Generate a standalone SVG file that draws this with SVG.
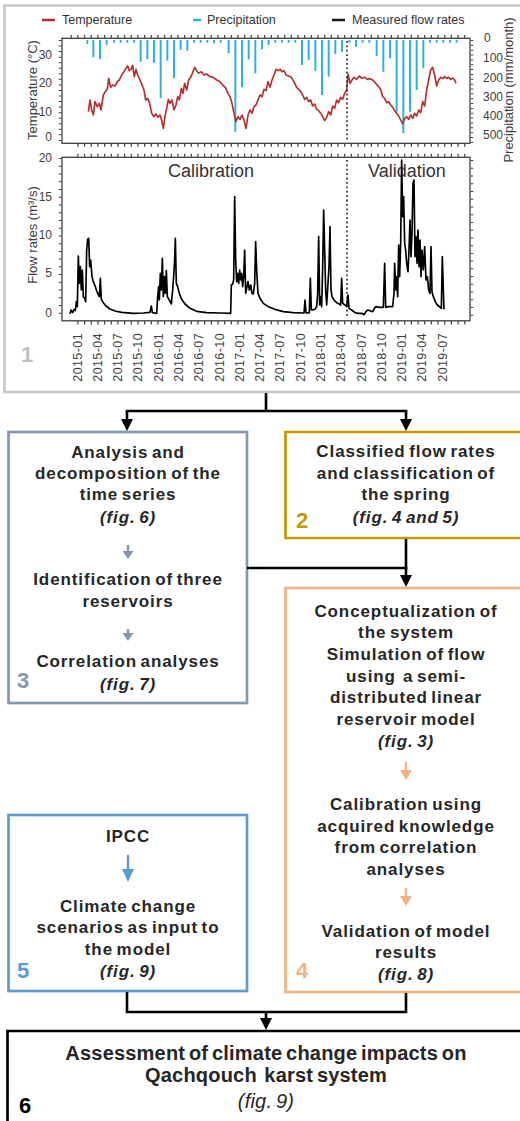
<svg xmlns="http://www.w3.org/2000/svg" width="520" height="1121" viewBox="0 0 520 1121">
<style>
.ax{font-family:"Liberation Sans",Arial,sans-serif;font-size:12px;fill:#404040}
.axt{font-family:"Liberation Sans",Arial,sans-serif;font-size:13px;fill:#404040}
.lg{font-family:"Liberation Sans",Arial,sans-serif;font-size:12.5px;fill:#333}
.dt{font-family:"Liberation Sans",Arial,sans-serif;font-size:12.5px;fill:#404040;text-anchor:end;letter-spacing:0.4px}
.big{font-family:"Liberation Sans",Arial,sans-serif;font-size:18px;fill:#333}
.t{font-family:"Liberation Sans",Arial,sans-serif;font-size:17px;font-weight:bold;fill:#262626;text-anchor:middle;letter-spacing:0.9px;word-spacing:-2px}
.t6{font-family:"Liberation Sans",Arial,sans-serif;font-size:20px;font-weight:bold;fill:#262626;text-anchor:middle;letter-spacing:0.2px;word-spacing:-2px}
.fig{font-style:italic}
.num{font-family:"Liberation Sans",Arial,sans-serif;font-size:22px;font-weight:bold}
.frame{fill:none;stroke-width:2.7}
.tick{stroke:#404040;fill:none}
.con{fill:none;stroke:#000;stroke-width:2.6}
.sub{fill:none;stroke-width:2.4}
</style>
<defs>
<marker id="ah" viewBox="0 0 12 12" refX="7" refY="6" markerWidth="12" markerHeight="12" markerUnits="userSpaceOnUse" orient="auto"><path d="M0,0 L12,6 L0,12 z" fill="#000"/></marker>
<marker id="ahs" viewBox="0 0 8 11" refX="2" refY="5.5" markerWidth="8" markerHeight="11" markerUnits="userSpaceOnUse" orient="auto"><path d="M0,0 L8,5.5 L0,11 z" fill="#8497b0"/></marker>
<marker id="ahp" viewBox="0 0 10 12" refX="2" refY="6" markerWidth="10" markerHeight="12" markerUnits="userSpaceOnUse" orient="auto"><path d="M0,0 L10,6 L0,12 z" fill="#f4b183"/></marker>
<marker id="ahb" viewBox="0 0 13 12" refX="2" refY="6" markerWidth="13" markerHeight="12" markerUnits="userSpaceOnUse" orient="auto"><path d="M0,0 L13,6 L0,12 z" fill="#5b9bd5"/></marker>
</defs>
<rect width="520" height="1121" fill="#fff"/>

<g id="node1">
<path class="frame" stroke="#c8c8c8" d="M522,5.5 H4.5 V392 H522"/>
<line x1="42" y1="20" x2="55" y2="20" stroke="#b5302f" stroke-width="2.5"/>
<text class="lg" x="62" y="24">Temperature</text>
<line x1="193" y1="20" x2="201" y2="20" stroke="#2fb0e0" stroke-width="2.5"/>
<text class="lg" x="207" y="24">Precipitation</text>
<line x1="332" y1="20" x2="345" y2="20" stroke="#1a1a1a" stroke-width="2.5"/>
<text class="lg" x="352" y="24">Measured flow rates</text>
<rect x="62" y="38.3" width="408" height="105" fill="none" stroke="#404040" stroke-width="1.3"/>
<g class="tick">
<line x1="70.6" y1="36.5" x2="468" y2="36.5" stroke-width="3" stroke-dasharray="1.2 5.47"/>
<line x1="77.3" y1="145" x2="468" y2="145" stroke-width="3.5" stroke-dasharray="1.2 5.47"/>
<line x1="60" y1="40" x2="60" y2="143" stroke-width="2.5" stroke-dasharray="1 4.55"/>
<line x1="472" y1="40" x2="472" y2="143" stroke-width="2.5" stroke-dasharray="1 3.85"/>
</g>
<text class="ax" x="52" y="141" text-anchor="end">0</text>
<text class="ax" x="52" y="116" text-anchor="end">10</text>
<text class="ax" x="52" y="87" text-anchor="end">20</text>
<text class="ax" x="52" y="59" text-anchor="end">30</text>
<text class="axt" transform="translate(37,90) rotate(-90)" text-anchor="middle">Temperature (°C)</text>
<text class="ax" x="484" y="42">0</text>
<text class="ax" x="483" y="62">100</text>
<text class="ax" x="483" y="82">200</text>
<text class="ax" x="483" y="101">300</text>
<text class="ax" x="483" y="120">400</text>
<text class="ax" x="483" y="139">500</text>
<text class="axt" transform="translate(513,90) rotate(-90)" text-anchor="middle">Precipitation (mm/month)</text>
<g transform="scale(0.33333)">
<path fill="none" stroke="#2fb0e0" stroke-width="6" d="M262,120V132 M280,120V172 M300,120V178 M320,120V135 M342,120V128 M362,120V128 M382,120V128 M402,120V128 M422,120V185 M442,120V178 M462,120V188 M482,120V295 M502,120V182 M522,120V235 M542,120V150 M562,120V152 M582,120V128 M602,120V128 M622,120V128 M642,120V130 M662,120V128 M686,120V160 M706,120V395 M726,120V262 M746,120V178 M766,120V220 M786,120V148 M806,120V135 M826,120V128 M846,120V128 M866,120V128 M886,120V128 M906,120V195 M926,120V180 M946,120V212 M966,120V285 M986,120V230 M1006,120V162 M1026,120V155 M1048,120V128 M1068,120V140 M1088,120V128 M1108,120V128 M1130,120V168 M1150,120V215 M1170,120V175 M1190,120V335 M1210,120V400 M1230,120V335 M1250,120V270 M1270,120V205 M1290,120V128 M1310,120V128 M1330,120V128 M1350,120V128 M1370,120V128"/>
<polyline fill="none" stroke="#b5302f" stroke-width="5" stroke-linejoin="round" points="265,335 270,300 275,330 280,345 285,305 292,320 298,310 303,330 310,285 316,275 322,268 326,235 332,262 338,255 345,258 352,245 358,240 365,225 372,215 378,205 383,198 388,212 393,208 398,196 403,230 408,208 413,225 420,240 426,255 432,270 437,300 443,295 449,310 455,340 462,350 468,342 474,352 480,345 485,360 490,385 495,350 500,325 505,298 510,310 516,300 522,330 528,315 533,290 538,300 544,265 549,280 554,250 560,270 566,240 572,232 578,218 584,202 590,212 596,220 604,215 612,225 620,222 630,230 640,232 650,240 660,245 668,255 676,262 684,280 690,290 696,310 702,340 708,365 714,350 720,358 726,345 732,360 738,385 744,345 750,330 756,340 762,320 768,315 774,300 780,285 786,290 792,268 798,272 804,245 810,262 816,240 822,225 828,208 834,212 840,208 846,215 852,212 858,225 866,228 874,232 882,245 890,262 896,268 902,275 908,285 914,298 920,292 926,305 932,300 938,318 944,312 950,328 956,332 962,340 968,350 974,362 980,352 986,335 992,345 998,318 1004,325 1010,300 1016,308 1022,292 1028,298 1034,280 1040,270 1044,222 1050,250 1056,240 1062,232 1070,238 1078,228 1086,235 1094,232 1102,238 1110,236 1118,240 1126,248 1134,258 1142,268 1148,290 1154,295 1160,308 1166,305 1172,315 1178,322 1184,332 1190,340 1196,348 1202,360 1208,372 1214,355 1220,350 1226,358 1232,345 1238,355 1244,340 1250,348 1256,330 1262,338 1268,305 1274,318 1280,270 1286,240 1292,210 1298,202 1304,225 1310,258 1316,240 1322,232 1328,236 1334,230 1340,235 1346,232 1352,238 1358,234 1364,240 1368,250"/>
</g>
<line x1="347" y1="41" x2="347" y2="140" stroke="#222" stroke-width="1.6" stroke-dasharray="1.8 2.6"/>
<rect x="62" y="157.3" width="408" height="163.5" fill="none" stroke="#404040" stroke-width="1.3"/>
<g class="tick">
<line x1="77.3" y1="155.3" x2="468" y2="155.3" stroke-width="3" stroke-dasharray="1.2 5.47"/>
<line x1="77.3" y1="322.8" x2="468" y2="322.8" stroke-width="3.5" stroke-dasharray="1.2 5.47"/>
<line x1="60" y1="158" x2="60" y2="320" stroke-width="2.5" stroke-dasharray="1 6.74"/>
<line x1="472" y1="160" x2="472" y2="320" stroke-width="2.5" stroke-dasharray="1 6.74"/>
</g>
<text class="ax" x="52" y="162" text-anchor="end">20</text>
<text class="ax" x="52" y="201" text-anchor="end">15</text>
<text class="ax" x="52" y="239" text-anchor="end">10</text>
<text class="ax" x="52" y="277" text-anchor="end">5</text>
<text class="ax" x="52" y="317" text-anchor="end">0</text>
<text class="axt" transform="translate(37,235) rotate(-90)" text-anchor="middle">Flow rates (m³/s)</text>
<text class="big" x="168" y="177">Calibration</text>
<text class="big" x="368" y="177">Validation</text>
<line x1="347" y1="160" x2="347" y2="318" stroke="#222" stroke-width="1.6" stroke-dasharray="1.8 2.6"/>
<g transform="translate(0,150) scale(0.33333)">
<polyline fill="none" stroke="#000" stroke-width="5" stroke-linejoin="round" points="210,492 213,480 218,488 222,478 226,482 229,455 232,470 235,318 238,400 241,350 244,420 247,360 250,440 254,445 257,455 260,300 263,268 266,265 269,350 272,330 276,380 280,395 286,410 292,428 298,440 301,385 304,448 310,458 318,468 330,477 345,483 365,487 400,490 430,489 450,487 454,468 457,488 470,490 473,440 476,410 478,450 481,370 484,420 487,325 490,440 493,380 496,430 499,362 502,440 508,450 514,462 518,420 521,380 524,330 526,265 529,400 533,410 538,430 545,448 555,462 570,475 590,484 620,488 660,489 692,490 694,405 698,402 701,390 704,140 707,330 710,395 713,370 716,400 719,360 722,390 725,370 728,410 731,380 734,300 737,430 740,415 744,395 748,420 752,405 756,430 760,432 764,400 767,275 770,360 774,430 780,445 790,460 805,470 825,478 850,485 880,488 912,489 915,450 918,489 928,488 931,385 934,480 945,478 950,470 953,430 956,260 959,465 962,440 965,470 968,350 971,180 974,300 977,420 980,465 984,400 987,350 990,230 993,420 996,440 1002,450 1010,458 1018,462 1022,465 1025,385 1028,460 1035,465 1040,470 1044,435 1047,475 1055,480 1065,488 1075,490 1085,490 1092,494 1098,485 1103,480 1110,482 1118,485 1123,475 1128,470 1140,472 1150,472 1154,340 1157,472 1165,470 1178,470 1182,430 1184,340 1187,420 1190,380 1193,440 1196,285 1199,380 1202,280 1205,30 1208,200 1211,140 1214,280 1217,300 1220,340 1224,365 1227,300 1230,210 1233,320 1236,250 1239,100 1242,90 1245,320 1248,260 1251,340 1254,240 1257,350 1260,270 1263,380 1266,300 1270,360 1274,290 1278,390 1282,380 1286,420 1290,430 1293,290 1296,425 1300,440 1306,455 1312,465 1318,470 1324,475 1327,320 1330,420 1332,478"/>
</g>
<text class="dt" transform="translate(81.6,333) rotate(-90)">2015-01</text>
<text class="dt" transform="translate(101.9,333) rotate(-90)">2015-04</text>
<text class="dt" transform="translate(122.2,333) rotate(-90)">2015-07</text>
<text class="dt" transform="translate(142.4,333) rotate(-90)">2015-10</text>
<text class="dt" transform="translate(162.7,333) rotate(-90)">2016-01</text>
<text class="dt" transform="translate(183,333) rotate(-90)">2016-04</text>
<text class="dt" transform="translate(203.3,333) rotate(-90)">2016-07</text>
<text class="dt" transform="translate(223.6,333) rotate(-90)">2016-10</text>
<text class="dt" transform="translate(243.8,333) rotate(-90)">2017-01</text>
<text class="dt" transform="translate(264.1,333) rotate(-90)">2017-04</text>
<text class="dt" transform="translate(284.4,333) rotate(-90)">2017-07</text>
<text class="dt" transform="translate(304.7,333) rotate(-90)">2017-10</text>
<text class="dt" transform="translate(325,333) rotate(-90)">2018-01</text>
<text class="dt" transform="translate(345.2,333) rotate(-90)">2018-04</text>
<text class="dt" transform="translate(365.5,333) rotate(-90)">2018-07</text>
<text class="dt" transform="translate(385.8,333) rotate(-90)">2018-10</text>
<text class="dt" transform="translate(406.1,333) rotate(-90)">2019-01</text>
<text class="dt" transform="translate(426.4,333) rotate(-90)">2019-04</text>
<text class="dt" transform="translate(446.6,333) rotate(-90)">2019-07</text>
<text class="num" x="21" y="362" fill="#c0c0c0">1</text>
</g>

<g id="node3">
<rect class="frame" stroke="#8497b0" x="8.5" y="432" width="238.5" height="271"/>
<text class="t" x="128" y="458">Analysis and</text>
<text class="t" x="128" y="479">decomposition of the</text>
<text class="t" x="128" y="500">time series</text>
<text class="t fig" x="128" y="523">(fig. 6)</text>
<text class="t" x="128" y="585">Identification of three</text>
<text class="t" x="128" y="607">reservoirs</text>
<text class="t" x="128" y="667">Correlation analyses</text>
<text class="t fig" x="128" y="690">(fig. 7)</text>
<text class="num" x="17" y="688" fill="#8497b0">3</text>
</g>

<g id="node2">
<path class="frame" stroke="#c59a00" d="M522,432 H285.5 V538 H522"/>
<text class="t" x="406" y="457">Classified flow rates</text>
<text class="t" x="406" y="479">and classification of</text>
<text class="t" x="406" y="500">the spring</text>
<text class="t fig" x="406" y="523">(fig. 4 and 5)</text>
<text class="num" x="296" y="528" fill="#c59a00">2</text>
</g>

<g id="node4">
<path class="frame" stroke="#f4b183" d="M522,588 H285.5 V992 H522"/>
<text class="t" x="406" y="617">Conceptualization of</text>
<text class="t" x="406" y="638">the system</text>
<text class="t" x="406" y="660">Simulation of flow</text>
<text class="t" x="406" y="682" xml:space="preserve">using  a semi-</text>
<text class="t" x="406" y="703">distributed linear</text>
<text class="t" x="406" y="725">reservoir model</text>
<text class="t fig" x="406" y="747">(fig. 3)</text>
<text class="t" x="406" y="810">Calibration using</text>
<text class="t" x="406" y="832">acquired knowledge</text>
<text class="t" x="406" y="853">from correlation</text>
<text class="t" x="406" y="875">analyses</text>
<text class="t" x="406" y="937">Validation of model</text>
<text class="t" x="406" y="958">results</text>
<text class="t fig" x="406" y="980">(fig. 8)</text>
<text class="num" x="296" y="978" fill="#f4b183">4</text>
</g>

<g id="node5">
<rect class="frame" stroke="#5b9bd5" x="8.5" y="815" width="238.5" height="176"/>
<text class="t" x="128" y="842">IPCC</text>
<text class="t" x="128" y="912">Climate change</text>
<text class="t" x="128" y="933">scenarios as input to</text>
<text class="t" x="128" y="955">the model</text>
<text class="t fig" x="128" y="977">(fig. 9)</text>
<text class="num" x="17" y="978" fill="#5b9bd5">5</text>
</g>

<g id="node6">
<path class="frame" stroke="#000" d="M7.5,1122 V1031 H522"/>
<text class="t6" x="266" y="1060">Assessment of climate change impacts on</text>
<text class="t6" x="266" y="1082" xml:space="preserve">Qachqouch  karst system</text>
<text class="t6 fig" x="266" y="1108" style="font-weight:normal">(fig. 9)</text>
<text class="num" x="19" y="1113" fill="#000">6</text>
</g>

<g id="connectors">
<path class="con" d="M266,393 V411 M125.7,411 H407.3"/>
<path class="con" d="M127,411 V426" marker-end="url(#ah)"/>
<path class="con" d="M406,411 V426" marker-end="url(#ah)"/>
<path class="con" d="M247,568 H407.3"/>
<path class="con" d="M406,539 V582" marker-end="url(#ah)"/>
<path class="con" d="M127,992 V1012 H406 V993"/>
<path class="con" d="M266,1012 V1025" marker-end="url(#ah)"/>
<path class="sub" stroke="#8497b0" d="M128,545 V553" marker-end="url(#ahs)"/>
<path class="sub" stroke="#8497b0" d="M128,629 V635" marker-end="url(#ahs)"/>
<path class="sub" stroke="#f4b183" d="M406,762 V772" marker-end="url(#ahp)"/>
<path class="sub" stroke="#f4b183" d="M406,888 V898" marker-end="url(#ahp)"/>
<path class="sub" stroke="#5b9bd5" d="M128,855 V871" marker-end="url(#ahb)"/>
</g>
</svg>
